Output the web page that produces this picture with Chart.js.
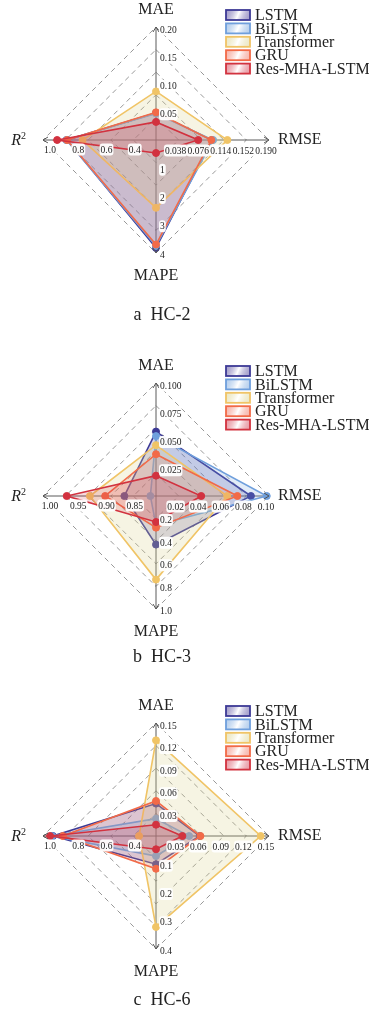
<!DOCTYPE html>
<html>
<head>
<meta charset="utf-8">
<script src="https://cdn.jsdelivr.net/npm/chart.js@4.4.0/dist/chart.umd.min.js"></script>
<style>
  html, body { margin: 0; padding: 0; background: #fff; }
  .panel { position: absolute; left: 0; width: 369px; }
</style>
</head>
<body>
<div class="panel" style="top:0"><canvas id="chartA" width="369" height="337"></canvas></div>
<div class="panel" style="top:337px"><canvas id="chartB" width="369" height="337"></canvas></div>
<div class="panel" style="top:674px"><canvas id="chartC" width="369" height="338"></canvas></div>
<script>
const metrics = ['MAE', 'RMSE', 'MAPE', 'R2'];
const models = ['LSTM', 'BiLSTM', 'Transformer', 'GRU', 'Res-MHA-LSTM'];
const lineColors = ['#3d3a96', '#6f9fdc', '#f0c466', '#f26a48', '#d2323f'];
const fillColors = ['rgba(72,60,150,0.21)', 'rgba(110,160,220,0.2)', 'rgba(218,210,140,0.24)',
                    'rgba(240,110,90,0.17)', 'rgba(210,55,75,0.19)'];

// HC-2: axis ranges (centre -> edge) and tick labels
const hc2Min = [0, 0, 0, 0.2];
const hc2Max = [0.20, 0.190, 4, 1.0];
const hc2Ticks = [['0.05', '0.10', '0.15', '0.20'], ['0.038', '0.076', '0.114', '0.152', '0.190'],
                  ['1', '2', '3', '4'], ['0.4', '0.6', '0.8', '1.0']];
const hc2LSTM = [0.048, 0.094, 3.82, 0.83];
const hc2BiLSTM = [0.047, 0.096, 3.75, 0.835];
const hc2Transformer = [0.086, 0.120, 2.40, 0.72];
const hc2GRU = [0.049, 0.093, 3.70, 0.83];
const hc2Res = [0.032, 0.071, 0.46, 0.90];

// HC-3
const hc3Min = [0, 0, 0, 0.8];
const hc3Max = [0.100, 0.10, 1.0, 1.00];
const hc3Ticks = [['0.025', '0.050', '0.075', '0.100'], ['0.02', '0.04', '0.06', '0.08', '0.10'],
                  ['0.2', '0.4', '0.6', '0.8', '1.0'], ['0.85', '0.90', '0.95', '1.00']];
const hc3LSTM = [0.057, 0.084, 0.43, 0.856];
const hc3BiLSTM = [0.053, 0.098, 0.26, 0.81];
const hc3Transformer = [0.045, 0.063, 0.74, 0.917];
const hc3GRU = [0.037, 0.072, 0.28, 0.89];
const hc3Res = [0.018, 0.040, 0.23, 0.958];

// HC-6
const hc6Min = [0, 0, 0, 0.2];
const hc6Max = [0.15, 0.15, 0.4, 1.0];
const hc6Ticks = [['0.03', '0.06', '0.09', '0.12', '0.15'], ['0.03', '0.06', '0.09', '0.12', '0.15'],
                  ['0.1', '0.2', '0.3', '0.4'], ['0.4', '0.6', '0.8', '1.0']];
const hc6LSTM = [0.043, 0.058, 0.10, 0.93];
const hc6BiLSTM = [0.023, 0.044, 0.071, 0.935];
const hc6Transformer = [0.127, 0.139, 0.322, 0.32];
const hc6GRU = [0.0465, 0.059, 0.116, 0.86];
const hc6Res = [0.015, 0.035, 0.047, 0.95];

const SERIF = '"Liberation Serif", "Times New Roman", serif';

function roundRect(ctx, x, y, w, h, r) {
    ctx.beginPath();
    ctx.moveTo(x + r, y);
    ctx.arcTo(x + w, y, x + w, y + h, r);
    ctx.arcTo(x + w, y + h, x, y + h, r);
    ctx.arcTo(x, y + h, x, y, r);
    ctx.arcTo(x, y, x + w, y, r);
    ctx.closePath();
}

function tickLabel(ctx, text, x, y, align) {
    ctx.font = '9.5px ' + SERIF;
    const w = ctx.measureText(text).width;
    let left = align === 'left' ? x : x - w / 2;
    ctx.fillStyle = 'rgba(255,255,255,0.95)';
    roundRect(ctx, left - 1, y - 6.5, w + 2, 12, 3);
    ctx.fill();
    ctx.fillStyle = '#222';
    ctx.textAlign = 'left';
    ctx.textBaseline = 'middle';
    ctx.fillText(text, left, y);
}

// axis arrows, tick labels, axis titles, legend and caption
const decorations = {
    id: 'decorations',
    afterDatasetsDraw(chart, args, opts) {
        const ctx = chart.ctx;
        const scale = chart.scales.r;
        const cx = scale.xCenter, cy = scale.yCenter, R = scale.drawingArea;
        ctx.save();

        // arrow heads
        ctx.strokeStyle = '#555';
        ctx.lineWidth = 1;
        [[0, -1], [1, 0], [0, 1], [-1, 0]].forEach(d => {
            const tx = cx + d[0] * R, ty = cy + d[1] * R;
            const px = -d[1], py = d[0];
            ctx.beginPath();
            ctx.moveTo(tx - d[0] * 5 + px * 3, ty - d[1] * 5 + py * 3);
            ctx.lineTo(tx, ty);
            ctx.lineTo(tx - d[0] * 5 - px * 3, ty - d[1] * 5 - py * 3);
            ctx.stroke();
        });

        // tick labels on each axis
        opts.ticks.forEach((list, axis) => {
            list.forEach(t => {
                const r = (parseFloat(t) - opts.min[axis]) / (opts.max[axis] - opts.min[axis]) * R;
                if (axis === 0) tickLabel(ctx, t, cx + 4, cy - r + 3, 'left');
                if (axis === 1) tickLabel(ctx, t, cx + r - 3, cy + 11, 'center');
                if (axis === 2) tickLabel(ctx, t, cx + 4, cy + r + 2, 'left');
                if (axis === 3) tickLabel(ctx, t, cx - r + 7, cy + 10, 'center');
            });
        });

        // axis titles
        ctx.fillStyle = '#222';
        ctx.font = '16px ' + SERIF;
        ctx.textBaseline = 'middle';
        ctx.textAlign = 'center';
        ctx.fillText(metrics[0], cx, cy - 130);
        ctx.fillText(metrics[2], cx, cy + 136);
        ctx.textAlign = 'left';
        ctx.fillText(metrics[1], cx + 122, cy);
        ctx.font = 'italic 16px ' + SERIF;
        ctx.textAlign = 'right';
        ctx.fillText('R', cx - 135, cy + 1);
        ctx.font = '10px ' + SERIF;
        ctx.textAlign = 'left';
        ctx.fillText('2', cx - 135, cy - 4);

        // legend
        chart.data.datasets.forEach((ds, i) => {
            const y = cy - 125 + i * 13.4;
            const g = ctx.createLinearGradient(cx + 70, y - 5, cx + 94, y + 5);
            g.addColorStop(0, fillColors[i].replace(/[\d.]+\)$/, '0.5)'));
            g.addColorStop(0.5, 'rgba(255,255,255,0.9)');
            g.addColorStop(1, fillColors[i].replace(/[\d.]+\)$/, '0.5)'));
            ctx.fillStyle = g;
            ctx.fillRect(cx + 70, y - 5, 24, 10);
            ctx.strokeStyle = lineColors[i];
            ctx.lineWidth = 1.8;
            ctx.strokeRect(cx + 70, y - 5, 24, 10);
            ctx.fillStyle = '#222';
            ctx.font = '16px ' + SERIF;
            ctx.textAlign = 'left';
            ctx.textBaseline = 'middle';
            ctx.fillText(ds.label, cx + 99, y + 1);
        });

        // caption
        ctx.font = '18px ' + SERIF;
        ctx.textAlign = 'center';
        ctx.fillText(opts.caption, 162, opts.captionY);
        ctx.restore();
    }
};

function makeChart(id, min, max, ticks, series, padTop, padBottom, caption, captionY) {
    const datasets = series.map((vals, i) => ({
        label: models[i],
        data: vals.map((v, k) => (v - min[k]) / (max[k] - min[k])),
        borderColor: lineColors[i],
        backgroundColor: fillColors[i],
        pointBackgroundColor: lineColors[i],
        pointBorderColor: lineColors[i],
        fill: true,
        order: 4 - i
    }));
    return new Chart(document.getElementById(id).getContext('2d'), {
        type: 'radar',
        data: { labels: metrics, datasets: datasets },
        options: {
            responsive: false,
            animation: false,
            devicePixelRatio: 1,
            layout: { padding: { left: 43, right: 100, top: padTop, bottom: padBottom } },
            elements: {
                line: { borderWidth: 1.6, tension: 0 },
                point: { radius: 3.5, borderWidth: 1 }
            },
            scales: {
                r: {
                    min: 0,
                    max: 1,
                    ticks: { display: false, stepSize: 0.2 },
                    pointLabels: { display: false },
                    grid: { color: '#8c8c8c', lineWidth: 0.9, borderDash: [5, 4] },
                    border: { dash: [5, 4] },
                    angleLines: { color: '#5a5a5a', lineWidth: 1 }
                }
            },
            plugins: {
                legend: { display: false },
                tooltip: { enabled: false },
                decorations: { min: min, max: max, ticks: ticks, caption: caption, captionY: captionY }
            }
        },
        plugins: [decorations]
    });
}

makeChart('chartA', hc2Min, hc2Max, hc2Ticks,
    [hc2LSTM, hc2BiLSTM, hc2Transformer, hc2GRU, hc2Res], 27, 84, 'a  HC-2', 315);
makeChart('chartB', hc3Min, hc3Max, hc3Ticks,
    [hc3LSTM, hc3BiLSTM, hc3Transformer, hc3GRU, hc3Res], 46, 65, 'b  HC-3', 320);
makeChart('chartC', hc6Min, hc6Max, hc6Ticks,
    [hc6LSTM, hc6BiLSTM, hc6Transformer, hc6GRU, hc6Res], 49, 63, 'c  HC-6', 326);
</script>
</body>
</html>
